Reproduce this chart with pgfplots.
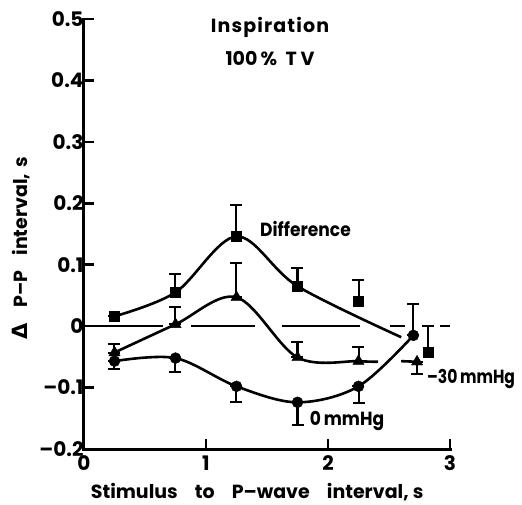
\documentclass[border=0pt]{standalone}
\usepackage{fontspec}
\setmainfont{Poppins}
\newfontfamily\dejavu{DejaVu Sans}
\usepackage{pgfplots}
\pgfplotsset{compat=1.18}
\newcommand{\lbl}{\fontsize{19}{22}\selectfont\bfseries}
\begin{document}
\begin{tikzpicture}
\begin{axis}[
  scale only axis, width=366pt, height=430pt,
  xmin=0, xmax=3, ymin=-0.2, ymax=0.5,
  axis lines*=left,
  axis line style={line width=3pt, line cap=rect},
  xtick={0,1,2,3},
  ytick={-0.2,-0.1,0,0.1,0.2,0.3,0.4,0.5},
  yticklabels={\textendash0.2,\textendash0.1,0,0.1,0.2,0.3,0.4,0.5},
  tick align=inside, major tick length=10pt,
  tick style={line width=2.5pt, black},
  ticklabel style={font=\fontsize{20}{22}\selectfont\bfseries},
  yticklabel style={xshift=3pt},
  xticklabel style={yshift=-3pt},
  /pgf/number format/assume math mode=true,
  label style={font=\lbl},
  xlabel={Stimulus\hspace{0.9em}to\hspace{0.9em}P\textendash wave\hspace{0.9em}interval, s},
  ylabel={{\dejavu\bfseries\fontsize{21}{22}\selectfont Δ}\hspace{0.8em}P\textendash P\hspace{0.8em}interval,\hspace{0.3em}s},
  xlabel style={at={(axis description cs:0.473,-0.1)}, anchor=center},
  ylabel style={at={(axis description cs:-0.172,0.467)}, anchor=center},
  clip=false,
  error bars/error bar style={line width=2pt, black},
  error bars/error mark options={rotate=90, mark size=6pt, line width=2pt, black},
]
% zero reference line, broken where the curves cross it
\addplot[line width=1.5pt, unbounded coords=jump] coordinates {
  (0,0) (0.65,0) (0.65,nan) (0.88,0) (1.40,0) (1.40,nan) (1.62,0) (2.26,0)
  (2.26,nan) (2.51,0) (2.63,0) (2.63,nan) (2.92,0) (3.0,0)};

% curves
\addplot[line width=2.6pt, smooth, tension=0.55] coordinates {
  (0.25,0.016) (0.75,0.055) (1.25,0.146) (1.75,0.065) (2.6,-0.018)};
\addplot[line width=2.6pt, smooth, tension=0.55] coordinates {
  (0.25,-0.043) (0.75,0.003) (1.25,0.047) (1.75,-0.051) (2.25,-0.057) (2.41,-0.058)};
\addplot[line width=2.6pt] coordinates {(2.6,-0.057) (2.73,-0.058)};
\addplot[line width=2.6pt, smooth, tension=0.55] coordinates {
  (0.25,-0.057) (0.75,-0.052) (1.25,-0.098) (1.75,-0.124) (2.25,-0.098) (2.7,-0.015)};

% Difference (squares)
\addplot[only marks, mark=square*, mark size=5pt, black,
  error bars/.cd, y dir=plus, y explicit] coordinates {
  (0.25,0.016) +- (0,0.0)
  (0.75,0.055) +- (0,0.030)
  (1.25,0.146) +- (0,0.051)
  (1.75,0.065) +- (0,0.029)
  (2.25,0.040) +- (0,0.035)
  (2.82,-0.042) +- (0,0.042)};
% -30 mmHg (triangles)
\addplot[only marks, mark=triangle*, mark size=6.5pt, black,
  error bars/.cd, y dir=both, y explicit] coordinates {
  (0.25,-0.043) += (0,0.014) -= (0,0)
  (0.75,0.003) += (0,0.028) -= (0,0)
  (1.25,0.047) += (0,0.056) -= (0,0)
  (1.75,-0.051) += (0,0.026) -= (0,0)
  (2.25,-0.057) += (0,0.023) -= (0,0)
  (2.73,-0.058) += (0,0) -= (0,0.020)};
% 0 mmHg (circles)
\addplot[only marks, mark=*, mark size=5.5pt, black,
  error bars/.cd, y dir=both, y explicit] coordinates {
  (0.25,-0.057) += (0,0) -= (0,0.013)
  (0.75,-0.052) += (0,0) -= (0,0.023)
  (1.25,-0.098) += (0,0) -= (0,0.025)
  (1.75,-0.124) += (0,0) -= (0,0.037)
  (2.25,-0.098) += (0,0) -= (0,0.027)
  (2.70,-0.015) += (0,0.051) -= (0,0)};

\node[font=\lbl] at (axis cs:1.525,0.487) {\addfontfeature{LetterSpace=6}Inspiration};
\node[font=\lbl] at (axis cs:1.525,0.435) {100\,\%\hspace{0.45em}T\hspace{0.2em}V};
\node[font=\lbl, anchor=west, inner sep=0pt] at (axis cs:1.443,0.159) {\scalebox{0.9}[1]{Difference}};
\node[font=\lbl, anchor=west, inner sep=0pt] at (axis cs:2.81,-0.086) {\scalebox{0.82}[1]{\textendash30\,mmHg}};
\node[font=\lbl, anchor=west, inner sep=0pt] at (axis cs:1.85,-0.154) {\scalebox{0.9}[1]{0\,mmHg}};
\end{axis}
\pgfresetboundingbox
\path[use as bounding box] ([shift={(-84pt,-55pt)}]current axis.south west) rectangle ([shift={(438pt,449pt)}]current axis.south west);
\end{tikzpicture}
\end{document}
